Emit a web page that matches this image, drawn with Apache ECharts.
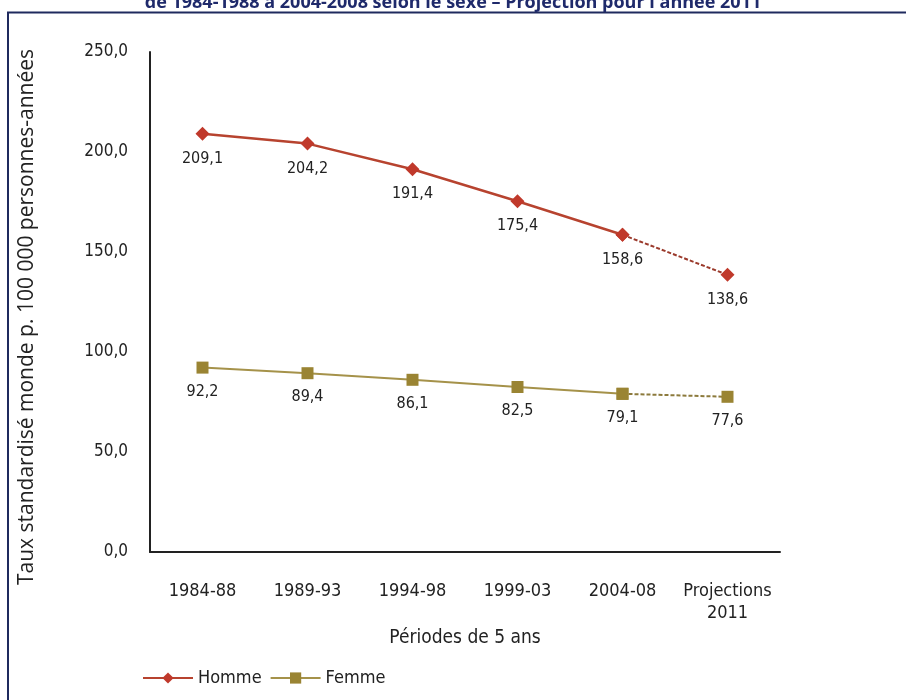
<!DOCTYPE html>
<html>
<head>
<meta charset="utf-8">
<script src="https://cdn.jsdelivr.net/npm/echarts@6/dist/echarts.min.js"></script>
<style>html,body{margin:0;padding:0;background:#fff}#c{width:906px;height:700px}</style>
</head>
<body>
<div id="c"></div>
<script>
var categories = ['1984-88', '1989-93', '1994-98', '1999-03', '2004-08', 'Projections\n2011'];
var hommeObserved = [209.1, 204.2, 191.4, 175.4, 158.6];
var hommeProjection = 138.6;
var femmeObserved = [92.2, 89.4, 86.1, 82.5, 79.1];
var femmeProjection = 77.6;
var yTicks = [0, 50, 100, 150, 200, 250];

function fmt(v) { return v.toFixed(1).replace('.', ','); }

var n = categories.length;
var hommeSolid = hommeObserved.concat([null]);
var femmeSolid = femmeObserved.concat([null]);
var hommeDash = [], femmeDash = [];
for (var i = 0; i < n; i++) {
  if (i === n - 2) { hommeDash.push(hommeObserved[i]); femmeDash.push(femmeObserved[i]); }
  else if (i === n - 1) { hommeDash.push(hommeProjection); femmeDash.push(femmeProjection); }
  else { hommeDash.push(null); femmeDash.push(null); }
}

var red = '#c0392b', redLine = '#b7432f';
var olive = '#9a8433', oliveLine = '#a5924a';
var font = 'DejaVu Sans Condensed, DejaVu Sans, sans-serif';
var labelStyle = { show: true, position: 'bottom', distance: 10, color: '#222', fontSize: 16, fontFamily: font,
  formatter: function (p) { return p.value == null ? '' : fmt(p.value); } };
var projLabel = { show: true, position: 'bottom', distance: 10, color: '#222', fontSize: 16, fontFamily: font,
  formatter: function (p) { return p.dataIndex === n - 1 ? fmt(p.value) : ''; } };

var chart = echarts.init(document.getElementById('c'));
chart.setOption({
  animation: false,
  title: {
    text: "de 1984-1988 à 2004-2008 selon le sexe – Projection pour l'année 2011",
    left: 'center', top: -11,
    textStyle: { color: '#1f2a6b', fontSize: 18, fontWeight: 'bold', fontFamily: 'Open Sans, sans-serif' }
  },
  graphic: [{
    type: 'rect', shape: { x: 8, y: 12.5, width: 920, height: 720 },
    style: { fill: 'none', stroke: '#1f2a5e', lineWidth: 2 }, z: -1
  }],
  grid: { left: 150, top: 52, width: 630, height: 500, containLabel: false },
  legend: {
    left: 137, top: 664, itemGap: 8, itemWidth: 50, itemHeight: 14,
    textStyle: { fontSize: 18, color: '#222', fontFamily: font },
    data: ['Homme', 'Femme']
  },
  xAxis: {
    type: 'category', data: categories, boundaryGap: true,
    axisLine: { lineStyle: { color: '#222', width: 2 } },
    axisTick: { show: false },
    axisLabel: { interval: 0, color: '#222', fontSize: 18, fontFamily: font, margin: 28, lineHeight: 22 },
    name: 'Périodes de 5 ans', nameLocation: 'middle', nameGap: 75,
    nameTextStyle: { color: '#222', fontSize: 19, fontFamily: font }
  },
  yAxis: {
    type: 'value', min: yTicks[0], max: yTicks[yTicks.length - 1], interval: 50,
    axisLine: { show: true, lineStyle: { color: '#222', width: 2 } },
    axisTick: { show: false },
    splitLine: { show: false },
    axisLabel: { color: '#222', fontSize: 17, fontFamily: font, margin: 22, formatter: function (v) { return fmt(v); } },
    name: 'Taux standardisé monde p. 100 000 personnes-années', nameLocation: 'middle', nameGap: 112, nameRotate: 90,
    nameTextStyle: { color: '#222', fontSize: 21, fontFamily: 'Open Sans, sans-serif', padding: [0, 30, 0, 0] }
  },
  series: [
    { name: 'Homme', type: 'line', data: hommeSolid, symbol: 'diamond', symbolSize: 14,
      itemStyle: { color: red }, lineStyle: { color: redLine, width: 2.5 }, label: labelStyle, z: 3 },
    { name: 'Homme-proj', type: 'line', data: hommeDash, symbol: 'diamond', symbolSize: 14,
      itemStyle: { color: red }, lineStyle: { color: '#9b3a2c', width: 2, type: [4, 2] },
      label: projLabel, z: 2 },
    { name: 'Femme', type: 'line', data: femmeSolid, symbol: 'rect', symbolSize: 12,
      itemStyle: { color: olive }, lineStyle: { color: oliveLine, width: 2 }, label: labelStyle, z: 3 },
    { name: 'Femme-proj', type: 'line', data: femmeDash, symbol: 'rect', symbolSize: 12,
      itemStyle: { color: olive }, lineStyle: { color: '#8c7a3c', width: 2, type: [4, 2] },
      label: projLabel, z: 2 }
  ]
});
</script>
</body>
</html>
